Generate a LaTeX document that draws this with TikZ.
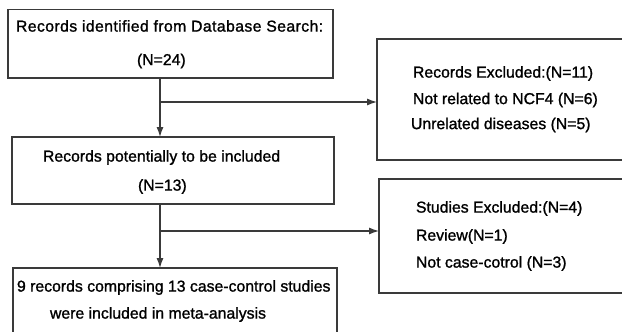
\documentclass[tikz,border=0pt]{standalone}
\usepackage{fontspec}
\setmainfont{Liberation Sans}
\newfontfamily\heavysans{Liberation Sans}[FakeBold=1.2]
\usetikzlibrary{arrows.meta,calc}
\definecolor{edgegray}{HTML}{3A3A3A}
\tikzset{
  box/.style={draw=edgegray, line width=1.2pt, fill=none, inner sep=0pt, outer sep=0pt},
  txt/.style={anchor=west, inner sep=0pt, outer sep=0pt, text height=11.2pt, text depth=0pt,
              font=\heavysans\fontsize{15.8}{18}\selectfont},
  widetxt/.style={txt, font=\heavysans\fontsize{15.8}{18}\selectfont\addfontfeatures{LetterSpace=2.5}},
  conn/.style={draw=edgegray, line width=1.2pt},
  arr/.style={conn, -{Latex[length=10pt,width=7pt]}}
}
\begin{document}
\begin{tikzpicture}[x=1pt,y=-1pt]
\clip (0,0) rectangle (622,332);
\fill[white] (0,0) rectangle (622,332);
% boxes
\node[box, minimum width=325pt, minimum height=68.5pt] (b1) at (170.5,43.75) {};
\node[box, minimum width=263pt, minimum height=121pt] (b2) at (508.5,99.5) {};
\node[box, minimum width=322pt, minimum height=67pt] (b3) at (173,170.5) {};
\node[box, minimum width=324pt, minimum height=82pt] (b4) at (175,309) {};
\node[box, minimum width=261pt, minimum height=114pt] (b5) at (509.5,236) {};
% texts
\node[widetxt] (t11) at (16,26) {Records identified from Database Search:};
\node[txt] (t12) at (137,59.5) {(N=24)};
\node[txt] (t21) at (413,72) {Records Excluded:(N=11)};
\node[txt] (t22) at (413,98.5) {Not related to NCF4 (N=6)};
\node[txt] (t23) at (411,123.5) {Unrelated diseases (N=5)};
\node[txt] (t31) at (43,156) {Records potentially to be included};
\node[txt] (t32) at (138,185) {(N=13)};
\node[txt] (t41) at (17,286) {9 records comprising 13 case-control studies};
\node[txt] (t42) at (50,313) {were included in meta-analysis};
\node[txt] (t51) at (416,207) {Studies Excluded:(N=4)};
\node[txt] (t52) at (416,235) {Review(N=1)};
\node[txt] (t53) at (416,262) {Not case-cotrol (N=3)};
% connectors
\coordinate (spine) at (160,0);
\coordinate (j1) at (160,102);
\coordinate (j2) at (160,231);
\draw[arr] (b1.south -| spine) -- (b3.north -| spine);
\draw[arr] (j1) -- (j1 -| b2.west);
\draw[arr] (b3.south -| spine) -- (b4.north -| spine);
\draw[arr] (j2) -- (j2 -| b5.west);
\end{tikzpicture}
\end{document}
